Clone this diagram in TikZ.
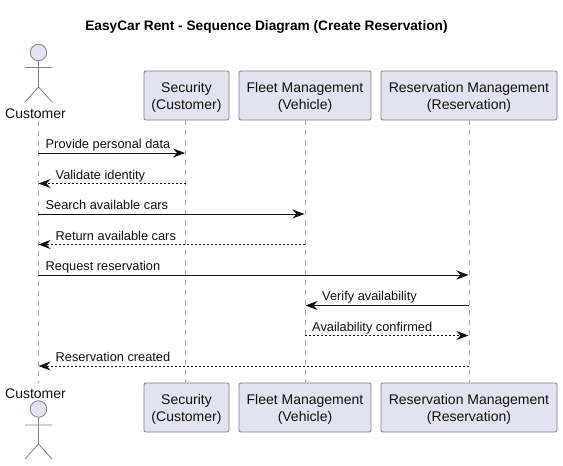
\documentclass[tikz,border=0pt]{standalone}
\usepackage{fontspec}
\setmainfont{Liberation Sans}
\usetikzlibrary{arrows.meta}
\definecolor{boxfill}{HTML}{E2E2F0}
\definecolor{boxline}{HTML}{7F7F88}
\definecolor{lifeline}{HTML}{A8A8A8}
\definecolor{ink}{HTML}{111111}
\newcommand{\topstrut}{\rule{0pt}{14.5pt}}
\tikzset{
  x=1pt,y=-1pt,
  part/.style={draw=boxline,fill=boxfill,rounded corners=2pt,line width=0.8pt,minimum height=49pt,inner sep=0pt,align=center,font=\fontsize{14}{17}\selectfont,text=ink},
  life/.style={draw=lifeline,line width=1pt,dash pattern=on 5pt off 5pt},
  msg/.style={draw=ink,line width=1pt,shorten >=0.5pt,-{Stealth[length=12pt,width=9pt,inset=4pt]}},
  reply/.style={msg,dash pattern=on 2pt off 2pt},
  lab/.style={anchor=base west,inner sep=0pt,font=\fontsize{12.8}{15}\selectfont,text=ink},
  who/.style={inner sep=0pt,font=\fontsize{14}{17}\selectfont,text=ink},
  actorline/.style={draw=boxline,line width=0.8pt},
}
\begin{document}
\begin{tikzpicture}
\useasboundingbox[fill=white] (0,0) rectangle (563,466);
\node[inner sep=0pt,font=\bfseries\fontsize{13.7}{17}\selectfont,text=black] (title) at (266.5,26.5) {EasyCar Rent - Sequence Diagram (Create Reservation)};
% actors
\node[who] (custA) at (35.5,114) {Customer};
\node[who] (custB) at (35.5,394) {Customer};
\node[circle,draw=boxline,fill=boxfill,line width=0.8pt,minimum size=16.5pt,inner sep=0pt] (headA) at (38.5,52.5) {};
\node[circle,draw=boxline,fill=boxfill,line width=0.8pt,minimum size=16.5pt,inner sep=0pt] (headB) at (38.5,409) {};
\coordinate (hipA) at (38.5,87); \coordinate (hipB) at (38.5,444);
\coordinate (armAl) at (25,67.5); \coordinate (armAr) at (52,67.5);
\coordinate (armBl) at (25,425); \coordinate (armBr) at (52,425);
\coordinate (legAl) at (25,102); \coordinate (legAr) at (52,102);
\coordinate (legBl) at (25,459); \coordinate (legBr) at (52,459);
\draw[actorline] (headA.south) -- (hipA) (armAl) -- (armAr) (legAl) -- (hipA) -- (legAr);
\draw[actorline] (headB.south) -- (hipB) (armBl) -- (armBr) (legBl) -- (hipB) -- (legBr);
% participants
\node[part,minimum width=85pt] (secT) at (186.5,95.5) {\topstrut Security\\(Customer)};
\node[part,minimum width=132pt] (fleT) at (305,95.5) {\topstrut Fleet Management\\(Vehicle)};
\node[part,minimum width=176pt] (resT) at (469,95.5) {\topstrut Reservation Management\\(Reservation)};
\node[part,minimum width=85pt] (secB) at (186.5,407.5) {\topstrut Security\\(Customer)};
\node[part,minimum width=132pt] (fleB) at (305,407.5) {\topstrut Fleet Management\\(Vehicle)};
\node[part,minimum width=176pt] (resB) at (469,407.5) {\topstrut Reservation Management\\(Reservation)};
% lifelines
\coordinate (cu1) at (38,121); \coordinate (cu2) at (38,383);
\coordinate (se1) at (185.5,120); \coordinate (se2) at (185.5,383);
\coordinate (fl1) at (305,120); \coordinate (fl2) at (305,383);
\coordinate (re1) at (469,120); \coordinate (re2) at (469,383);
\draw[life] (cu1) -- (cu2);
\draw[life] (se1) -- (se2);
\draw[life] (fl1) -- (fl2);
\draw[life] (re1) -- (re2);
% message rows
\coordinate (r1) at (0,153); \coordinate (r2) at (0,183.5); \coordinate (r3) at (0,214); \coordinate (r4) at (0,244.5);
\coordinate (r5) at (0,275); \coordinate (r6) at (0,305.5); \coordinate (r7) at (0,335.5); \coordinate (r8) at (0,366);
\draw[msg] (cu1 |- r1) -- (se1 |- r1);
\draw[reply] (se1 |- r2) -- (cu1 |- r2);
\draw[msg] (cu1 |- r3) -- (fl1 |- r3);
\draw[reply] (fl1 |- r4) -- (cu1 |- r4);
\draw[msg] (cu1 |- r5) -- (re1 |- r5);
\draw[msg] (re1 |- r6) -- (fl1 |- r6);
\draw[reply] (fl1 |- r7) -- (re1 |- r7);
\draw[reply] (re1 |- r8) -- (cu1 |- r8);
% labels
\node[lab] (l1) at (45.5,148.5) {Provide personal data};
\node[lab] (l2) at (55.5,179) {Validate identity};
\node[lab] (l3) at (45.5,209.5) {Search available cars};
\node[lab] (l4) at (55.5,240) {Return available cars};
\node[lab] (l5) at (45.5,270.5) {Request reservation};
\node[lab] (l6) at (322,300.5) {Verify availability};
\node[lab] (l7) at (312,331) {Availability confirmed};
\node[lab] (l8) at (55.5,361.5) {Reservation created};
\end{tikzpicture}
\end{document}
